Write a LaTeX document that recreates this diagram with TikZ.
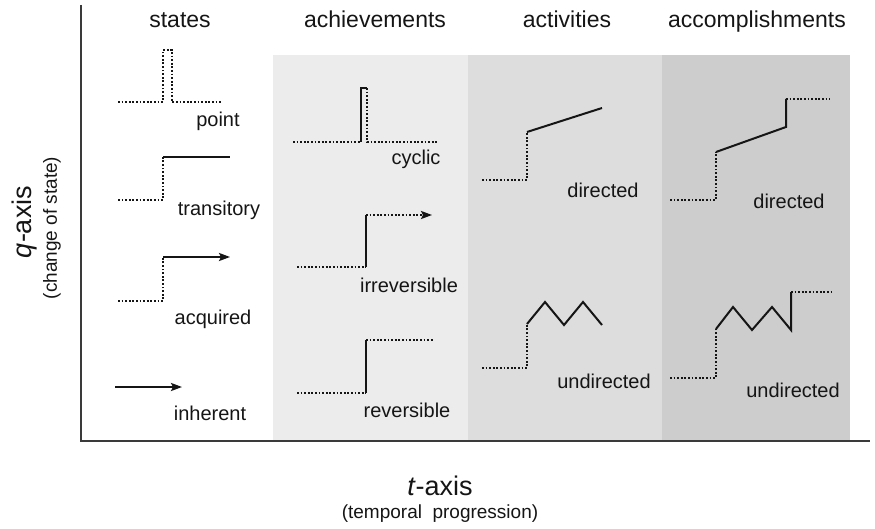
\documentclass[tikz,border=0pt]{standalone}
\usepackage{fontspec}
\setmainfont{Liberation Sans}
\usetikzlibrary{arrows,arrows.meta}

\definecolor{inkgray}{HTML}{151515}
\definecolor{axisgray}{HTML}{3A3A3A}
\definecolor{panelA}{HTML}{ECECEC}
\definecolor{panelB}{HTML}{DDDDDD}
\definecolor{panelC}{HTML}{CDCDCD}

\begin{document}
\begin{tikzpicture}[x=1pt,y=-1pt,>={Stealth[length=11pt,width=8pt,inset=2pt]},thick,
  solid line/.style={line width=2pt,draw=inkgray},
  dot line/.style={line width=2pt,draw=inkgray,dash pattern=on 1.8pt off 1.8pt},
  axis line/.style={line width=2.4pt,draw=axisgray},
  head/.style={font=\fontsize{23}{27}\selectfont,text=inkgray,anchor=base},
  lab/.style={font=\fontsize{20}{24}\selectfont,text=inkgray,anchor=base},
  axis title/.style={font=\fontsize{27}{32}\selectfont,text=inkgray},
  axis note/.style={font=\fontsize{19}{23}\selectfont,text=inkgray}]

  \useasboundingbox (0,0) rectangle (875,529);

  % shaded columns
  \fill[panelA] (273,55) rectangle (468,441);
  \fill[panelB] (468,55) rectangle (662,441);
  \fill[panelC] (662,55) rectangle (850,441);

  % axes
  \coordinate (top) at (81,5);
  \coordinate (origin) at (81,441);
  \coordinate (right) at (870,441);
  \draw[axis line] (top) -- (origin) -- (right);

  \node[head] (states) at (180,28) {states};
  \node[head] (achieve) at (375,28) {achievements};
  \node[head] (activ) at (567,28) {activities};
  \node[head] (accomp) at (757,28) {accomplishments};

  \node[axis title,rotate=90] (qaxis) at (25,222) {\textit{q}-axis};
  \node[axis note,rotate=90] (qnote) at (52,228) {(change of state)};
  \node[axis title,anchor=base] (taxis) at (440,495) {\textit{t}-axis};
  \node[axis note,anchor=base] (tnote) at (440,518) {(temporal\ \ progression)};

  % states
  \draw[dot line] (118,102) -- (163,102) -- (163,50) -- (172,50) -- (172,102) -- (222,102);
  \node[lab] (point) at (218,127) {point};

  \draw[dot line] (118,200) -- (163,200) -- (163,157);
  \draw[solid line] (163,157) -- (230,157);
  \node[lab] (transitory) at (219,216) {transitory};

  \draw[dot line] (118,301) -- (163,301) -- (163,257);
  \draw[solid line,->] (163,257) -- (230,257);
  \node[lab] (acquired) at (213,324) {acquired};

  \draw[solid line,->] (115,387) -- (182,387);
  \node[lab] (inherent) at (210,420) {inherent};

  % achievements
  \draw[dot line] (293,142) -- (361,142);
  \draw[solid line] (361,142) -- (361,88) -- (367,88);
  \draw[dot line] (367,88) -- (367,142) -- (438,142);
  \node[lab] (cyclic) at (416,165) {cyclic};

  \draw[dot line] (297,267) -- (366,267);
  \draw[solid line] (366,267) -- (366,215);
  \draw[dot line,->] (366,215) -- (432,215);
  \node[lab] (irrev) at (409,292) {irreversible};

  \draw[dot line] (297,393) -- (366,393);
  \draw[solid line] (366,393) -- (366,340);
  \draw[dot line] (366,340) -- (433,340);
  \node[lab] (rev) at (407,417) {reversible};

  % activities
  \draw[dot line] (482,180) -- (527,180) -- (527,132);
  \draw[solid line] (527,132) -- (602,108);
  \node[lab] (actdir) at (603,198) {directed};

  \draw[dot line] (482,368) -- (527,368) -- (527,324);
  \draw[solid line] (527,324) -- (545,302) -- (564,325) -- (583,302) -- (602,325);
  \node[lab] (actundir) at (604,388) {undirected};

  % accomplishments
  \draw[dot line] (670,200) -- (716,200) -- (716,152);
  \draw[solid line] (716,152) -- (786,127) -- (786,99);
  \draw[dot line] (786,99) -- (830,99);
  \node[lab] (accdir) at (789,209) {directed};

  \draw[dot line] (670,378) -- (716,378) -- (716,329);
  \draw[solid line] (716,329) -- (733,307) -- (752,330) -- (772,307) -- (791,330) -- (791,292);
  \draw[dot line] (791,292) -- (834,292);
  \node[lab] (accundir) at (793,397) {undirected};

\end{tikzpicture}
\end{document}
